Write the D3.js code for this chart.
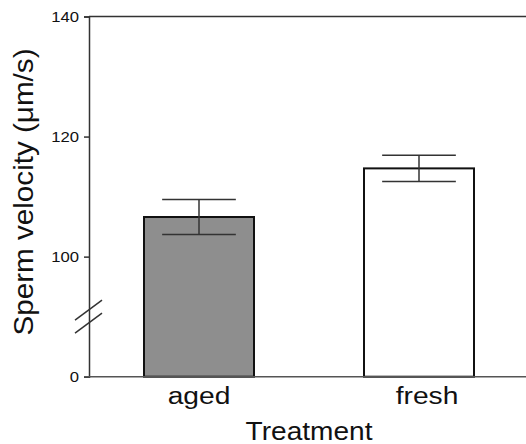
<!DOCTYPE html>
<html><head><meta charset="utf-8">
<script src="https://cdn.jsdelivr.net/npm/d3@7"></script>
<style>body{margin:0;background:#fff}svg{display:block}text{font-family:"Liberation Sans",Arial,sans-serif;fill:#111}</style>
</head><body>
<svg id="c" width="526" height="444"></svg>
<script>
const categories = ["aged", "fresh"];
const means = [106.6, 114.7];
const errors = [2.9, 2.2];
const fills = ["#8e8e8e", "#ffffff"];
const tickValues = [80, 100, 120, 140];
const tickLabels = ["0", "100", "120", "140"];
const yTitle = "Sperm velocity (μm/s)";
const xTitle = "Treatment";

const svg = d3.select("#c");
const y = d3.scaleLinear().domain([80, 140]).range([376.7, 16.5]);
const x = d3.scaleBand().domain(categories).range([89, 529]).paddingInner(0.5).paddingOuter(0.25);
const axisX = 89;

// top line
svg.append("line").attr("x1", axisX).attr("x2", 526).attr("y1", y(140)).attr("y2", y(140))
  .attr("stroke", "#333").attr("stroke-width", 1.5);

// bars
const data = categories.map((c, i) => ({c, m: means[i], e: errors[i], f: fills[i]}));
svg.selectAll("rect.bar").data(data).enter().append("rect")
  .attr("x", d => x(d.c)).attr("width", x.bandwidth())
  .attr("y", d => y(d.m)).attr("height", d => y(80) - y(d.m))
  .attr("fill", d => d.f).attr("stroke", "#111").attr("stroke-width", 2);

// error bars
const capW = x.bandwidth() * 0.67;
const eb = svg.selectAll("g.eb").data(data).enter().append("g")
  .attr("stroke", "#333").attr("stroke-width", 1.5);
eb.append("line").attr("x1", d => x(d.c) + x.bandwidth()/2).attr("x2", d => x(d.c) + x.bandwidth()/2)
  .attr("y1", d => y(d.m + d.e)).attr("y2", d => y(d.m - d.e));
eb.append("line").attr("x1", d => x(d.c) + x.bandwidth()/2 - capW/2).attr("x2", d => x(d.c) + x.bandwidth()/2 + capW/2)
  .attr("y1", d => y(d.m + d.e)).attr("y2", d => y(d.m + d.e));
eb.append("line").attr("x1", d => x(d.c) + x.bandwidth()/2 - capW/2).attr("x2", d => x(d.c) + x.bandwidth()/2 + capW/2)
  .attr("y1", d => y(d.m - d.e)).attr("y2", d => y(d.m - d.e));

// y axis
const yAxis = d3.axisLeft(y).tickValues(tickValues).tickSize(5).tickPadding(5)
  .tickFormat((d, i) => tickLabels[i]);
const gy = svg.append("g").attr("transform", `translate(${axisX},0)`).call(yAxis);
gy.select(".domain").attr("stroke", "#333").attr("stroke-width", 1.5);
gy.selectAll(".tick line").attr("stroke", "#333").attr("stroke-width", 1.5);
gy.selectAll(".tick text").attr("font-size", 14.5).attr("fill", "#111")
  .attr("font-family", "'Liberation Sans', Arial, sans-serif")
  .each(function(){ const t = d3.select(this); const xx = +t.attr("x");
    t.attr("transform", `translate(${xx},0) scale(1.15,1) translate(${-xx},0)`); });

// bottom axis line
svg.append("line").attr("x1", axisX - 5).attr("x2", 526).attr("y1", y(80)).attr("y2", y(80))
  .attr("stroke", "#555").attr("stroke-width", 1.5);

// axis break marks
const yb = y(90);
svg.append("g").attr("stroke", "#333").attr("stroke-width", 1.5).selectAll("line")
  .data([-6.5, 6.5]).enter().append("line")
  .attr("x1", axisX - 14).attr("x2", axisX + 13)
  .attr("y1", d => yb + d + 10).attr("y2", d => yb + d - 10);

// category labels
svg.selectAll("text.cat").data(data).enter().append("text")
  .attr("text-anchor", "middle").attr("font-size", 24.5)
  .attr("transform", (d, i) => `translate(${x(d.c) + x.bandwidth()/2 + (i === 1 ? 8 : 0)},403.5) scale(1.15,1)`)
  .text(d => d.c);

// axis titles
svg.append("text").attr("text-anchor", "middle").attr("font-size", 26)
  .attr("transform", "translate(309,439.5) scale(1.08,1)").text(xTitle);
svg.append("text").attr("text-anchor", "middle").attr("font-size", 28.5)
  .attr("transform", "translate(33,192) rotate(-90) scale(1.04,1)").text(yTitle);
</script>
</body></html>
